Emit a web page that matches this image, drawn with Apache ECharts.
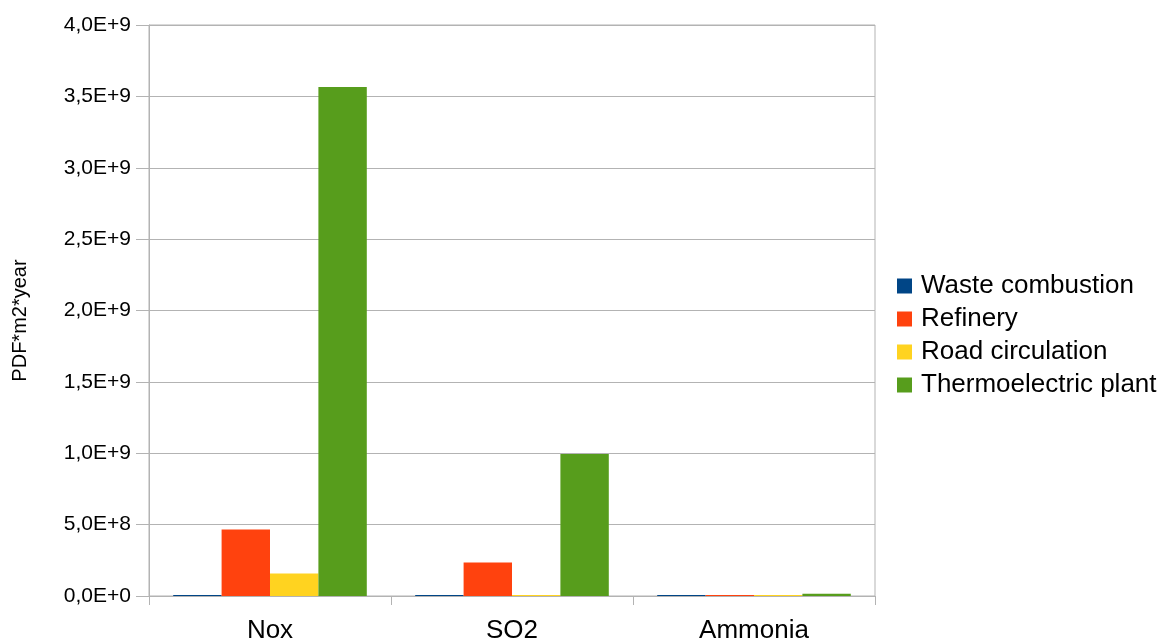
<!DOCTYPE html>
<html>
<head>
<meta charset="utf-8">
<style>
  html, body { margin: 0; padding: 0; background: #fff; }
  #chart { width: 1165px; height: 642px; }
</style>
<script src="https://cdn.jsdelivr.net/npm/echarts@6/dist/echarts.min.js"></script>
</head>
<body>
<div id="chart"></div>
<script>
// data
const categories = ['Nox', 'SO2', 'Ammonia']
const wasteCombustion = [7e6, 7e6, 7e6]
const refinery = [4.65e8, 2.35e8, 7e6]
const roadCirculation = [1.57e8, 7e6, 7e6]
const thermoelectricPlant = [3.565e9, 9.95e8, 1.6e7]

const font = 'Liberation Sans, Arial, sans-serif'

// 4,0E+9 style labels
const formatSci = (v) => {
  if (!v) return '0,0E+0'
  const exp = Math.floor(Math.log10(v) + 1e-9)
  const mant = v / Math.pow(10, exp)
  return mant.toFixed(1).replace('.', ',') + 'E+' + exp
}

const chart = echarts.init(document.getElementById('chart'), null, { renderer: 'canvas' })

const makeSeries = (name, data, color) => ({
  name,
  type: 'bar',
  data,
  barGap: '0%',
  barCategoryGap: '20%',
  itemStyle: { color },
})

chart.setOption({
  animation: false,
  backgroundColor: '#ffffff',
  textStyle: { fontFamily: font },
  grid: {
    left: 149,
    right: 290,
    top: 25,
    bottom: 46,
    outerBoundsMode: 'none',
    show: true,
    borderColor: '#b3b3b3',
    borderWidth: 1,
  },
  legend: {
    orient: 'vertical',
    left: 892,
    top: 268,
    itemWidth: 15,
    itemHeight: 15,
    itemGap: 7,
    icon: 'rect',
    textStyle: {
      fontSize: 26,
      lineHeight: 26,
      color: '#000',
      fontFamily: font,
      padding: [0, 0, 0, 4],
    },
    data: ['Waste combustion', 'Refinery', 'Road circulation', 'Thermoelectric plant'],
  },
  xAxis: {
    type: 'category',
    data: categories,
    axisLine: { lineStyle: { color: '#b3b3b3', width: 1 } },
    axisTick: { show: true, alignWithLabel: false, length: 9, lineStyle: { color: '#b3b3b3' } },
    axisLabel: { color: '#000', fontSize: 26, margin: 22, fontFamily: font },
  },
  yAxis: {
    type: 'value',
    min: 0,
    max: 4e9,
    interval: 5e8,
    name: 'PDF*m2*year',
    nameLocation: 'middle',
    nameRotate: 90,
    nameGap: 119,
    nameTextStyle: { color: '#000', fontSize: 20, fontFamily: font, padding: [0, 20, 0, 0] },
    axisLine: { show: true, lineStyle: { color: '#b3b3b3', width: 1 } },
    axisTick: { show: true, length: 13, lineStyle: { color: '#b3b3b3' } },
    axisLabel: { color: '#000', fontSize: 21, margin: 18, formatter: formatSci, fontFamily: font },
    splitLine: { lineStyle: { color: '#b3b3b3', width: 1 } },
  },
  series: [
    makeSeries('Waste combustion', wasteCombustion, '#004586'),
    makeSeries('Refinery', refinery, '#ff420e'),
    makeSeries('Road circulation', roadCirculation, '#ffd320'),
    makeSeries('Thermoelectric plant', thermoelectricPlant, '#579d1c'),
  ],
})

window.addEventListener('resize', () => chart.resize())
</script>
</body>
</html>
